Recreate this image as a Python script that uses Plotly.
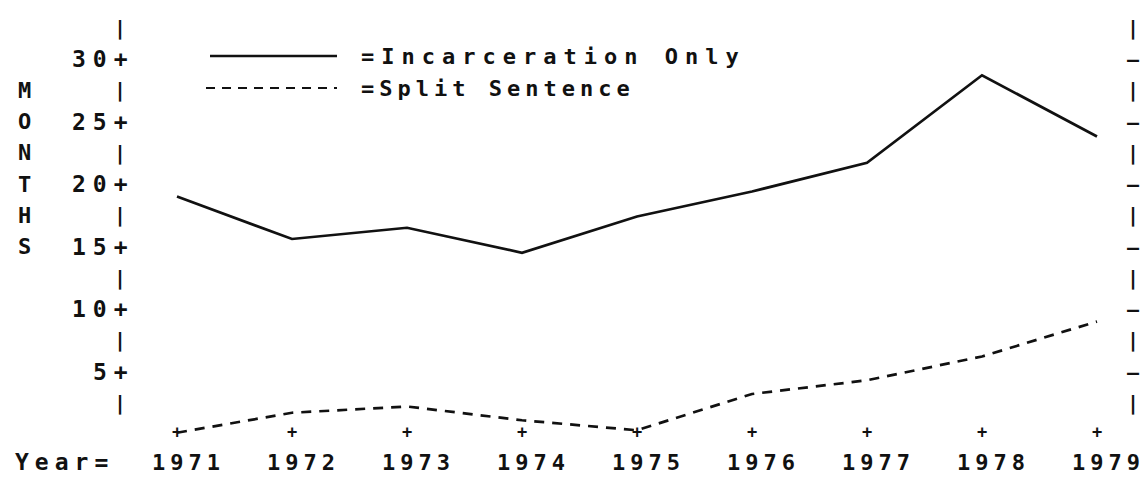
import plotly.graph_objects as go

years = [1971, 1972, 1973, 1974, 1975, 1976, 1977, 1978, 1979]
incarceration_only = [19.0, 15.6, 16.5, 14.5, 17.4, 19.4, 21.7, 28.7, 23.8]
split_sentence = [0.1, 1.7, 2.2, 1.1, 0.3, 3.2, 4.3, 6.2, 9.0]
y_ticks = [30, 25, 20, 15, 10, 5]
y_minor = [32.5, 27.5, 22.5, 17.5, 12.5, 7.5, 2.5]
y_title = ["M", "O", "N", "T", "H", "S"]
y_title_pos = [27.5, 25, 22.5, 20, 17.5, 15]
legend_names = ["=Incarceration Only", "=Split Sentence"]

INK = "#111111"
FONT = "DejaVu Sans Mono"

# the page body has an 8px margin, so every screen pixel below is shifted by 8
W, H = 1132, 471
px_year = 115.0
px_unit = 12.5
x0 = 1971 - (177 - 8) / px_year
x1 = x0 + W / px_year
y1 = (434 - 8) / px_unit
y0 = y1 - H / px_unit


def X(px):
    return x0 + (px - 8) / px_year


def Y(py):
    return (434 - py) / px_unit


def sp(s, gap=5):
    # typewriter spacing between the letters, none after the last one
    return '<b><span style="letter-spacing:%spx">%s</span>%s</b>' % (gap, s[:-1], s[-1])


fig = go.Figure()

fig.add_trace(go.Scatter(x=years, y=incarceration_only, mode="lines",
                         line=dict(color=INK, width=2.7), cliponaxis=False))
fig.add_trace(go.Scatter(x=years, y=split_sentence, mode="lines",
                         line=dict(color=INK, width=2.7, dash="10px,8px"), cliponaxis=False))

# "+" marks along the year axis
fig.add_trace(go.Scatter(x=years, y=[0] * len(years), mode="text", text=["<b>+</b>"] * len(years),
                         textfont=dict(family=FONT, size=17, color=INK), cliponaxis=False))

ann = []

for v in y_ticks:
    ann.append(dict(x=X(129), y=v, text=sp(str(v) + "+", 7), xanchor="right", font=dict(size=23)))
    ann.append(dict(x=X(1133), y=v, text="<b>–</b>", xanchor="center", font=dict(size=20)))
for v in y_minor:
    ann.append(dict(x=X(120), y=v, text="<b>|</b>", xanchor="center", font=dict(size=20)))
    ann.append(dict(x=X(1133), y=v, text="<b>|</b>", xanchor="center", font=dict(size=20)))

for ch, v in zip(y_title, y_title_pos):
    ann.append(dict(x=X(24), y=v, text="<b>%s</b>" % ch, xanchor="center", font=dict(size=22)))

for yr in years:
    ann.append(dict(x=yr - 26 / px_year, y=Y(462), text=sp(str(yr), 5), xanchor="left",
                    font=dict(size=22)))
ann.append(dict(x=X(14), y=Y(462), text=sp("Year=", 6), xanchor="left", font=dict(size=23)))

# legend
leg_y = [Y(56), Y(88)]
shapes = [
    dict(type="line", x0=X(210), x1=X(337), y0=leg_y[0], y1=leg_y[0], line=dict(color=INK, width=2.6)),
    dict(type="line", x0=X(206), x1=X(337), y0=leg_y[1], y1=leg_y[1],
         line=dict(color=INK, width=2.2, dash="9px,7px")),
]
for name, v, gap in zip(legend_names, leg_y, [7, 5]):
    ann.append(dict(x=X(360), y=v, text=sp(name, gap), xanchor="left", font=dict(size=22)))

for a in ann:
    a["yanchor"] = "middle"
    a["showarrow"] = False
    a["borderpad"] = 0
    a["font"] = dict(family=FONT, color=INK, **a["font"])
    a["xref"] = "x"
    a["yref"] = "y"

fig.update_layout(
    width=W, height=H,
    margin=dict(l=0, r=0, t=0, b=0),
    paper_bgcolor="white", plot_bgcolor="white",
    showlegend=False,
    xaxis=dict(range=[x0, x1], visible=False),
    yaxis=dict(range=[y0, y1], visible=False),
    annotations=ann, shapes=shapes,
)

fig.write_html("out.html")
